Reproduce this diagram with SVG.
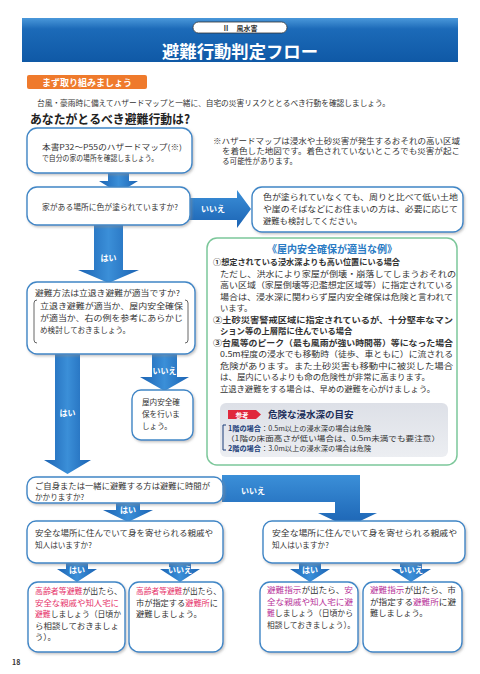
<svg xmlns="http://www.w3.org/2000/svg" width="480" height="674" viewBox="0 0 480 674">
<defs>
<style>
text{font-family:'Noto Sans CJK JP','Noto Sans',sans-serif;fill:#333;}
.b{font-size:7.6px;}
.g{font-size:8.3px;}
.s{font-size:7.2px;}
.bd{font-weight:bold;}
.w{fill:#fff;font-weight:bold;font-size:8px;}
.box{fill:#fff;stroke:#3f86c6;stroke-width:1.4;filter:url(#sh);}
.arr{fill:url(#ag);}
.harr{fill:url(#ah);}
.r{fill:#e6336b;}
.m{fill:#b8339a;}
.nv{fill:#1d3f7a;font-weight:bold;}
</style>
<linearGradient id="ag" x1="0" y1="0" x2="1" y2="0"><stop offset="0" stop-color="#1b63b3"/><stop offset="0.5" stop-color="#3b8fd8"/><stop offset="1" stop-color="#1b63b3"/></linearGradient>
<linearGradient id="ah" x1="0" y1="0" x2="0" y2="1"><stop offset="0" stop-color="#3b8fd8"/><stop offset="1" stop-color="#1b63b3"/></linearGradient>
<linearGradient id="band" x1="0" y1="0" x2="0" y2="1"><stop offset="0" stop-color="#4a98da"/><stop offset="0.25" stop-color="#1c6ab8"/><stop offset="1" stop-color="#0f59a6"/></linearGradient>
<linearGradient id="gray" x1="0" y1="0" x2="0" y2="1"><stop offset="0" stop-color="#dde0e7"/><stop offset="1" stop-color="#eceef2"/></linearGradient>
<filter id="sh" x="-5%" y="-5%" width="115%" height="130%"><feDropShadow dx="1.2" dy="1.5" stdDeviation="0.8" flood-color="#888" flood-opacity="0.5"/></filter>
</defs>
<rect width="480" height="674" fill="#fff"/>

<g id="header">
<rect x="22" y="18" width="436" height="44" fill="url(#band)"/>
<rect x="193" y="22" width="94" height="11" rx="5.5" fill="#fff" stroke="#333" stroke-width="0.8"/>
<text x="240" y="30.5" text-anchor="middle" style="font-size:7px;font-weight:bold">Ⅱ　風水害</text>
<text x="240" y="58" text-anchor="middle" style="font-size:17px;font-weight:bold;fill:#fff" textLength="156" lengthAdjust="spacingAndGlyphs">避難行動判定フロー</text>
</g>

<g id="intro">
<rect x="27" y="75" width="120" height="14" rx="2" fill="#ef7a2c"/>
<text x="87" y="85.5" text-anchor="middle" style="font-size:9px;font-weight:bold;fill:#fff">まず取り組みましょう</text>
<text x="37" y="106" class="b" textLength="353" lengthAdjust="spacingAndGlyphs">台風・豪雨時に備えてハザードマップと一緒に、自宅の災害リスクととるべき行動を確認しましょう。</text>
<text x="30" y="124" style="font-size:12.5px;font-weight:bold;fill:#222" textLength="160" lengthAdjust="spacingAndGlyphs">あなたがとるべき避難行動は?</text>
<text x="213" y="144" class="b" textLength="247" lengthAdjust="spacingAndGlyphs">※ハザードマップは浸水や土砂災害が発生するおそれの高い区域</text>
<text x="222" y="154" class="b" textLength="238" lengthAdjust="spacingAndGlyphs">を着色した地図です。着色されていないところでも災害が起こ</text>
<text x="222" y="164" class="b">る可能性があります。</text>
</g>

<g id="connectors">
<polygon class="arr" points="108,172 129,172 129,181 138,181 118.5,193 99,181 108,181"/>
<polygon class="harr" points="189,198 237,198 237,190 251,209 237,228 237,220 189,220"/>
<text x="213" y="212" class="w" text-anchor="middle">いいえ</text>
<polygon class="arr" points="94,224 123,224 123,270 139,270 108.5,283 78,270 94,270"/>
<text x="108.5" y="261" class="w" text-anchor="middle">はい</text>
<polygon class="arr" points="55,354 80,354 80,460 91,460 67.5,474 44,460 55,460"/>
<text x="67.5" y="416" class="w" text-anchor="middle">はい</text>
<polygon class="arr" points="152,354 177,354 177,377 189,377 164.5,391 140,377 152,377"/>
<text x="164.5" y="374" class="w" text-anchor="middle">いいえ</text>
<polygon class="harr" points="222,475 360,475 360,513 377,513 347.5,527 318,513 335,513 335,502 222,502"/>
<text x="241" y="494" class="w">いいえ</text>
<polygon class="arr" points="116,501 140,501 140,510 153,510 128,522 103,510 116,510"/>
<text x="128" y="513" class="w" text-anchor="middle">はい</text>
<polygon class="arr" points="66,562 88,562 88,569 97,569 77,582 57,569 66,569"/>
<text x="77" y="573" class="w" text-anchor="middle">はい</text>
<polygon class="arr" points="169,562 191,562 191,569 200,569 180,582 160,569 169,569"/>
<text x="180" y="573" class="w" text-anchor="middle">いいえ</text>
<polygon class="arr" points="299,562 321,562 321,569 330,569 310,582 290,569 299,569"/>
<text x="310" y="573" class="w" text-anchor="middle">はい</text>
<polygon class="arr" points="400,562 422,562 422,569 431,569 411,582 391,569 400,569"/>
<text x="411" y="573" class="w" text-anchor="middle">いいえ</text>
</g>

<g id="n1">
<rect class="box" x="27" y="128" width="165" height="45" rx="10"/>
<text x="42" y="150" class="b" textLength="140" lengthAdjust="spacingAndGlyphs">本書P32～P55のハザードマップ(※)</text>
<text x="42" y="161" class="b" textLength="116" lengthAdjust="spacingAndGlyphs">で自分の家の場所を確認しましょう。</text>
</g>

<g id="n2">
<rect class="box" x="27" y="187" width="163" height="38" rx="10"/>
<text x="42" y="210" class="b" textLength="136" lengthAdjust="spacingAndGlyphs">家がある場所に色が塗られていますか?</text>
</g>

<g id="n3">
<rect class="box" x="252" y="187" width="211" height="45" rx="10"/>
<text x="263" y="200" class="g" textLength="195" lengthAdjust="spacingAndGlyphs">色が塗られていなくても、周りと比べて低い土地</text>
<text x="263" y="212" class="g" textLength="195" lengthAdjust="spacingAndGlyphs">や崖のそばなどにお住まいの方は、必要に応じて</text>
<text x="263" y="224" class="g">避難も検討してください。</text>
</g>

<g id="n4">
<rect x="207" y="238" width="250" height="227" rx="10" fill="#fff" stroke="#7cc79a" stroke-width="1.5"/>
<text x="332" y="253" text-anchor="middle" style="font-size:10px;font-weight:bold;fill:#2a7bc4">《屋内安全確保が適当な例》</text>
<text x="213" y="265" class="g bd" textLength="187" lengthAdjust="spacingAndGlyphs">①想定されている浸水深よりも高い位置にいる場合</text>
<text x="220" y="276.5" class="g" textLength="236" lengthAdjust="spacingAndGlyphs">ただし、洪水により家屋が倒壊・崩落してしまうおそれの</text>
<text x="220" y="288" class="g" textLength="233" lengthAdjust="spacingAndGlyphs">高い区域（家屋倒壊等氾濫想定区域等）に指定されている</text>
<text x="220" y="299.5" class="g" textLength="233" lengthAdjust="spacingAndGlyphs">場合は、浸水深に関わらず屋内安全確保は危険と言われて</text>
<text x="220" y="311" class="g">います。</text>
<text x="213" y="322.5" class="g bd" textLength="240" lengthAdjust="spacingAndGlyphs">②土砂災害警戒区域に指定されているが、十分堅牢なマン</text>
<text x="220" y="334" class="g bd">ション等の上層階に住んでいる場合</text>
<text x="213" y="345.5" class="g bd" textLength="240" lengthAdjust="spacingAndGlyphs">③台風等のピーク（最も風雨が強い時間帯）等になった場合</text>
<text x="220" y="357" class="g" textLength="233" lengthAdjust="spacingAndGlyphs">0.5m程度の浸水でも移動時（徒歩、車ともに）に流される</text>
<text x="220" y="368.5" class="g" textLength="233" lengthAdjust="spacingAndGlyphs">危険があります。また土砂災害も移動中に被災した場合</text>
<text x="220" y="380" class="g" textLength="210" lengthAdjust="spacingAndGlyphs">は、屋内にいるよりも命の危険性が非常に高まります。</text>
<text x="220" y="391.5" class="g" textLength="215" lengthAdjust="spacingAndGlyphs">立退き避難をする場合は、早めの避難を心がけましょう。</text>
<rect x="220" y="403" width="228" height="54" rx="6" fill="url(#gray)"/>
<polygon points="228,410 256,410 261,414.5 256,419 228,419" fill="#e0283c"/>
<text x="242" y="417.5" text-anchor="middle" style="font-size:6.5px;font-weight:bold;fill:#fff">参考</text>
<text x="268" y="418" style="font-size:9.5px;font-weight:bold;fill:#1d2f5a">危険な浸水深の目安</text>
<path d="M226,425 h-3 v25 h3" fill="none" stroke="#1d3f7a" stroke-width="1"/>
<text x="228" y="431" class="s"><tspan class="nv">1階の場合</tspan>：0.5m以上の浸水深の場合は危険</text>
<text x="226" y="441" class="s" textLength="214" lengthAdjust="spacingAndGlyphs">（1階の床面高さが低い場合は、0.5m未満でも要注意）</text>
<text x="228" y="451" class="s"><tspan class="nv">2階の場合</tspan>：3.0m以上の浸水深の場合は危険</text>
</g>

<g id="n5">
<rect class="box" x="27" y="282" width="168" height="72" rx="10"/>
<text x="35" y="296" class="b" textLength="145" lengthAdjust="spacingAndGlyphs">避難方法は立退き避難が適当ですか?</text>
<path d="M37,300 q-3,0 -3,3 v37 q0,3 3,3" fill="none" stroke="#555" stroke-width="0.9"/>
<path d="M185,300 q3,0 3,3 v37 q0,3 -3,3" fill="none" stroke="#555" stroke-width="0.9"/>
<text x="40" y="309" class="b" textLength="143" lengthAdjust="spacingAndGlyphs">立退き避難が適当か、屋内安全確保</text>
<text x="40" y="321" class="b" textLength="143" lengthAdjust="spacingAndGlyphs">が適当か、右の例を参考にあらかじ</text>
<text x="40" y="333" class="b">め検討しておきましょう。</text>
</g>

<g id="n6">
<rect class="box" x="132" y="390" width="61" height="50" rx="9"/>
<text x="142" y="405" class="b">屋内安全確</text>
<text x="142" y="417" class="b">保を行いま</text>
<text x="142" y="429" class="b">しょう。</text>
</g>

<g id="n7">
<rect class="box" x="27" y="477" width="196" height="26" rx="9"/>
<text x="35" y="489" class="b" textLength="175" lengthAdjust="spacingAndGlyphs">ご自身または一緒に避難する方は避難に時間が</text>
<text x="35" y="499.5" class="b">かかりますか?</text>
</g>

<g id="n8">
<rect class="box" x="27" y="521" width="196" height="42" rx="9"/>
<text x="35" y="536" class="b" textLength="178" lengthAdjust="spacingAndGlyphs">安全な場所に住んでいて身を寄せられる親戚や</text>
<text x="35" y="548" class="b">知人はいますか?</text>
</g>

<g id="n9">
<rect class="box" x="263" y="521" width="202" height="42" rx="9"/>
<text x="272" y="536" class="b" textLength="185" lengthAdjust="spacingAndGlyphs">安全な場所に住んでいて身を寄せられる親戚や</text>
<text x="272" y="548" class="b">知人はいますか?</text>
</g>

<g id="n10">
<rect class="box" x="28" y="582" width="97" height="70" rx="10"/>
<text x="35" y="594" class="g" textLength="87" lengthAdjust="spacingAndGlyphs"><tspan class="r">高齢者等避難</tspan>が出たら、</text>
<text x="35" y="605.5" class="g r" textLength="84" lengthAdjust="spacingAndGlyphs">安全な親戚や知人宅に</text>
<text x="35" y="617" class="g" textLength="86" lengthAdjust="spacingAndGlyphs"><tspan class="r">避難</tspan>しましょう（日頃か</text>
<text x="35" y="628.5" class="g" textLength="84" lengthAdjust="spacingAndGlyphs">ら相談しておきましょ</text>
<text x="35" y="640" class="g">う）。</text>
</g>

<g id="n11">
<rect class="box" x="129" y="582" width="94" height="70" rx="10"/>
<text x="136" y="594" class="g" textLength="85" lengthAdjust="spacingAndGlyphs"><tspan class="r">高齢者等避難</tspan>が出たら、</text>
<text x="136" y="605.5" class="g" textLength="82" lengthAdjust="spacingAndGlyphs">市が指定する<tspan class="r">避難所</tspan>に</text>
<text x="136" y="617" class="g">避難しましょう。</text>
</g>

<g id="n12">
<rect class="box" x="260" y="582" width="98" height="70" rx="10"/>
<text x="267" y="593" class="g" textLength="86" lengthAdjust="spacingAndGlyphs"><tspan class="m">避難指示</tspan>が出たら、<tspan class="m">安</tspan></text>
<text x="267" y="604.5" class="g m" textLength="86" lengthAdjust="spacingAndGlyphs">全な親戚や知人宅に避</text>
<text x="267" y="616" class="g" textLength="86" lengthAdjust="spacingAndGlyphs"><tspan class="m">難</tspan>しましょう（日頃から</text>
<text x="267" y="627.5" class="g" textLength="88" lengthAdjust="spacingAndGlyphs">相談しておきましょう）。</text>
</g>

<g id="n13">
<rect class="box" x="363" y="582" width="99" height="70" rx="10"/>
<text x="370" y="593" class="g" textLength="86" lengthAdjust="spacingAndGlyphs"><tspan class="m">避難指示</tspan>が出たら、市</text>
<text x="370" y="604.5" class="g" textLength="86" lengthAdjust="spacingAndGlyphs">が指定する<tspan class="m">避難所</tspan>に避</text>
<text x="370" y="616" class="g">難しましょう。</text>
</g>

<text x="12" y="665" style="font-size:7px;font-weight:bold">18</text>
</svg>
